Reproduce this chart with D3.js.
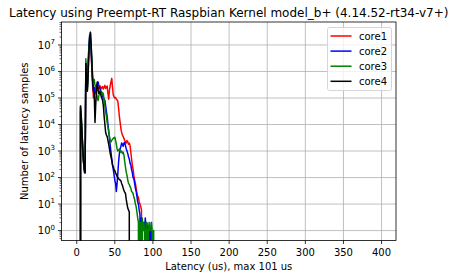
<!DOCTYPE html>
<html>
<head>
<meta charset="utf-8">
<script src="https://cdn.jsdelivr.net/npm/d3@7"></script>
<style>
  body { margin: 0; background: #fff; }
  text { font-family: "DejaVu Sans", sans-serif; fill: #000; }
</style>
</head>
<body>
<svg id="chart" width="457" height="278"></svg>
<script>
// histogram of latency samples per core, one bin per microsecond, starting at 0 us
// (bins after the last listed value are empty)
const binRange = [0, 399];
const seriesNames = ["core1", "core2", "core3", "core4"];
const seriesColors = ["#ff0000", "#0000ff", "#008000", "#000000"];

const core1 = [
  0, 0, 0, 0, 0, 3e4, 1.2e4, 3e3, 9e2, 3.5e2,
  2e2, 1.8e2, 1.5e6, 1.2e6, 3e5, 2e6, 8e6, 1.3e7, 1.2e7, 5e6,
  1e6, 2.5e5, 1e5, 1.2e5, 1.5e5, 2e5, 2.5e5, 2.2e5, 2.6e5, 2.3e5,
  2.5e5, 2.8e5, 2.2e5, 2.4e5, 2.7e5, 2.2e5, 2.5e5, 3e5, 2.3e5, 2.6e5,
  2.8e5, 1.5e5, 9e4, 2e5, 3e5, 4e5, 5.5e5, 2.5e5, 1.3e5, 1.1e5,
  1e5, 1.05e5, 9e4, 8.5e4, 7.5e4, 4e4, 2e4, 1.2e4, 7e3, 5e3,
  4e3, 3.5e3, 3e3, 2.5e3, 2.2e3, 2e3, 2.5e3, 2.2e3, 1.8e3, 2e3,
  1.6e3, 9e2, 5e2, 3e2, 2e2, 1.2e2, 80, 60, 40, 25,
  20, 18, 12, 10, 8, 6, 0
];
const core2 = [
  0, 0, 0, 0, 0, 4e4, 1.5e4, 4e3, 1e3, 4e2,
  1.6e2, 1.5e2, 2e6, 1.5e6, 2.5e5, 1.5e6, 1e7, 2.4e7, 1.5e7, 6e6,
  1.2e6, 4e5, 2e5, 2.5e5, 1.5e5, 2.5e5, 3e5, 3.5e5, 4e5, 3e5,
  2.5e5, 2e5, 1.8e5, 1.5e5, 1.2e5, 1e5, 9e4, 8e4, 5e4, 3e4,
  2e4, 1e4, 6e3, 3e3, 1.6e3, 9e2, 5e2, 3e2, 2e2, 1.3e2,
  80, 60, 30, 60, 1.5e2, 4e2, 8e2, 1.2e3, 1.5e3, 2e3,
  1.8e3, 1.5e3, 2e3, 2.1e3, 1.6e3, 1.2e3, 1e3, 8e2, 6e2, 5e2,
  3.5e2, 3e2, 2e2, 1.5e2, 1e2, 90, 60, 40, 30, 20,
  12, 10, 6, 4, 0, 3, 2, 1, 2, 1,
  3, 1, 2, 1, 1, 0, 1, 0, 2, 0
];
const core3 = [
  0, 0, 0, 0, 0, 5e4, 2e4, 5e3, 1.2e3, 4e2,
  2e2, 2e2, 3e6, 8e5, 2e5, 1e6, 6e6, 2e7, 3.1e7, 9e6,
  2e6, 6e5, 4e5, 5e5, 3e5, 2.5e5, 1.5e5, 1e5, 8e4, 1.2e5,
  1.5e5, 1.8e5, 1.5e5, 1.3e5, 1.6e5, 1.4e5, 8e4, 5e4, 3e4, 2e4,
  1.2e4, 8e3, 5e3, 3.5e3, 2.5e3, 2.2e3, 2.5e3, 2.8e3, 3e3, 3.2e3,
  3.3e3, 2.5e3, 1.8e3, 1.2e3, 1e3, 1.1e3, 1.2e3, 1e3, 9e2, 1e3,
  8e2, 9e2, 7e2, 4e2, 2.5e2, 1.6e2, 1.2e2, 80, 60, 55,
  45, 40, 30, 28, 25, 18, 15, 10, 8, 5,
  3, 2, 0, 1, 2, 0, 3, 1, 2, 1,
  0, 2, 1, 0, 1, 2, 1, 1, 2, 1,
  0, 1
];
const core4 = [
  0, 0, 0, 0, 0, 5e4, 1.8e4, 5e3, 1.2e3, 4e2,
  2e2, 1.5e2, 2e6, 6e5, 1.8e5, 8e5, 5e6, 1.8e7, 2.9e7, 1e7,
  2e6, 4e5, 1.8e5, 1.5e5, 1.2e4, 6e4, 2e5, 4e5, 2e5, 1.5e5,
  1.8e5, 1.5e5, 1.2e5, 1e5, 8e4, 5e4, 2e4, 1e4, 5e3, 4e3,
  3.5e3, 2.5e3, 1.8e3, 1.2e3, 8e2, 6e2, 4.5e2, 3e2, 2.5e2, 2e2,
  1.8e2, 1.5e2, 1.3e2, 1.1e2, 1e2, 90, 85, 80, 75, 60,
  50, 40, 32, 28, 25, 15, 10, 7, 6, 5,
  0
];
const seriesValues = [core1, core2, core3, core4];

const xTicks = [0, 50, 100, 150, 200, 250, 300, 350, 400];
const yTickExps = [0, 1, 2, 3, 4, 5, 6, 7];

const titleText = "Latency using Preempt-RT Raspbian Kernel model_b+ (4.14.52-rt34-v7+)";
const xLabel = "Latency (us), max 101 us";
const yLabel = "Number of latency samples";

// --- layout ---
const width = 457, height = 278;
const margin = {top: 22, right: 61, bottom: 37.5, left: 61.5};
const w = width - margin.left - margin.right;
const h = height - margin.top - margin.bottom;

const svg = d3.select("#chart");
const g = svg.append("g").attr("transform", `translate(${margin.left},${margin.top})`);

// full histograms: empty bins after the last recorded value
const bins = d3.range(binRange[0], binRange[1] + 1);
const series = seriesValues.map(vals => bins.map(b => [b, b < vals.length ? vals[b] : 0]));

// scales with 5% padding like matplotlib autoscale
const xPad = (binRange[1] - binRange[0]) * 0.05;
const x = d3.scaleLinear().domain([binRange[0] - xPad, binRange[1] + xPad]).range([0, w]);

const positives = seriesValues.flat().filter(v => v > 0);
const lo = Math.log10(d3.min(positives)), hi = Math.log10(d3.max(positives));
const yPad = (hi - lo) * 0.05;
const y = d3.scaleLog().domain([10 ** (lo - yPad), 10 ** (hi + yPad)]).range([h, 0]);

// grid
const grid = g.append("g").attr("stroke", "#b0b0b0").attr("stroke-width", 0.8);
grid.selectAll("line.gx").data(xTicks).enter().append("line")
  .attr("x1", d => x(d)).attr("x2", d => x(d)).attr("y1", 0).attr("y2", h);
grid.selectAll("line.gy").data(yTickExps).enter().append("line")
  .attr("y1", d => y(10 ** d)).attr("y2", d => y(10 ** d)).attr("x1", 0).attr("x2", w);

// lines
svg.append("defs").append("clipPath").attr("id", "plotclip")
  .append("rect").attr("width", w).attr("height", h);

const line = d3.line()
  .x(d => x(d[0]))
  .y(d => d[1] > 0 ? y(d[1]) : h + 8000); // empty bins fall off the log axis

g.append("g").attr("clip-path", "url(#plotclip)")
  .selectAll("path")
  .data(series)
  .enter()
  .append("path")
  .attr("d", line)
  .attr("fill", "none")
  .attr("stroke", (d, i) => seriesColors[i])
  .attr("stroke-width", 1.5)
  .attr("stroke-linejoin", "round");

// frame
g.append("rect").attr("width", w).attr("height", h)
  .attr("fill", "none").attr("stroke", "#000").attr("stroke-width", 0.8);

// x ticks
const xt = g.append("g");
xt.selectAll("line").data(xTicks).enter().append("line")
  .attr("x1", d => x(d)).attr("x2", d => x(d))
  .attr("y1", h).attr("y2", h + 3.5)
  .attr("stroke", "#000").attr("stroke-width", 0.8);
xt.selectAll("text").data(xTicks).enter().append("text")
  .attr("x", d => x(d)).attr("y", h + 15)
  .attr("text-anchor", "middle").attr("font-size", 10)
  .text(d => d);

// y ticks (major + minor)
const minor = [];
for (let e = -1; e <= 8; e++) {
  for (let m = 2; m <= 9; m++) {
    const v = m * 10 ** e;
    if (v >= y.domain()[0] && v <= y.domain()[1]) minor.push(v);
  }
}
const yt = g.append("g");
yt.selectAll("line.minor").data(minor).enter().append("line")
  .attr("x1", -2).attr("x2", 0)
  .attr("y1", d => y(d)).attr("y2", d => y(d))
  .attr("stroke", "#000").attr("stroke-width", 0.6);
yt.selectAll("line.major").data(yTickExps).enter().append("line")
  .attr("x1", -3.5).attr("x2", 0)
  .attr("y1", d => y(10 ** d)).attr("y2", d => y(10 ** d))
  .attr("stroke", "#000").attr("stroke-width", 0.8);
const ylab = yt.selectAll("text").data(yTickExps).enter().append("text")
  .attr("x", -6.5).attr("y", d => y(10 ** d) + 3.8)
  .attr("text-anchor", "end").attr("font-size", 10);
ylab.append("tspan").text("10");
ylab.append("tspan").attr("dy", -4.5).attr("font-size", 7).text(d => d);

// labels
svg.append("text").attr("x", margin.left + w / 2).attr("y", 17)
  .attr("text-anchor", "middle").attr("font-size", 12).text(titleText);
svg.append("text").attr("x", margin.left + w / 2).attr("y", 270)
  .attr("text-anchor", "middle").attr("font-size", 10).text(xLabel);
svg.append("text")
  .attr("transform", `translate(28,${margin.top + h / 2}) rotate(-90)`)
  .attr("text-anchor", "middle").attr("font-size", 10).text(yLabel);

// legend
const lg = svg.append("g").attr("transform", "translate(327.5,27.5)");
lg.append("rect").attr("width", 64).attr("height", 63).attr("rx", 2)
  .attr("fill", "#fff").attr("fill-opacity", 0.8)
  .attr("stroke", "#cccccc").attr("stroke-width", 0.8);
const items = lg.selectAll("g.item").data(seriesNames).enter().append("g")
  .attr("transform", (d, i) => `translate(0,${8.5 + i * 15.1})`);
items.append("line").attr("x1", 3).attr("x2", 24)
  .attr("stroke", (d, i) => seriesColors[i]).attr("stroke-width", 1.5);
items.append("text").attr("x", 31.5).attr("y", 3.6).attr("font-size", 10).text(d => d);
</script>
</body>
</html>
